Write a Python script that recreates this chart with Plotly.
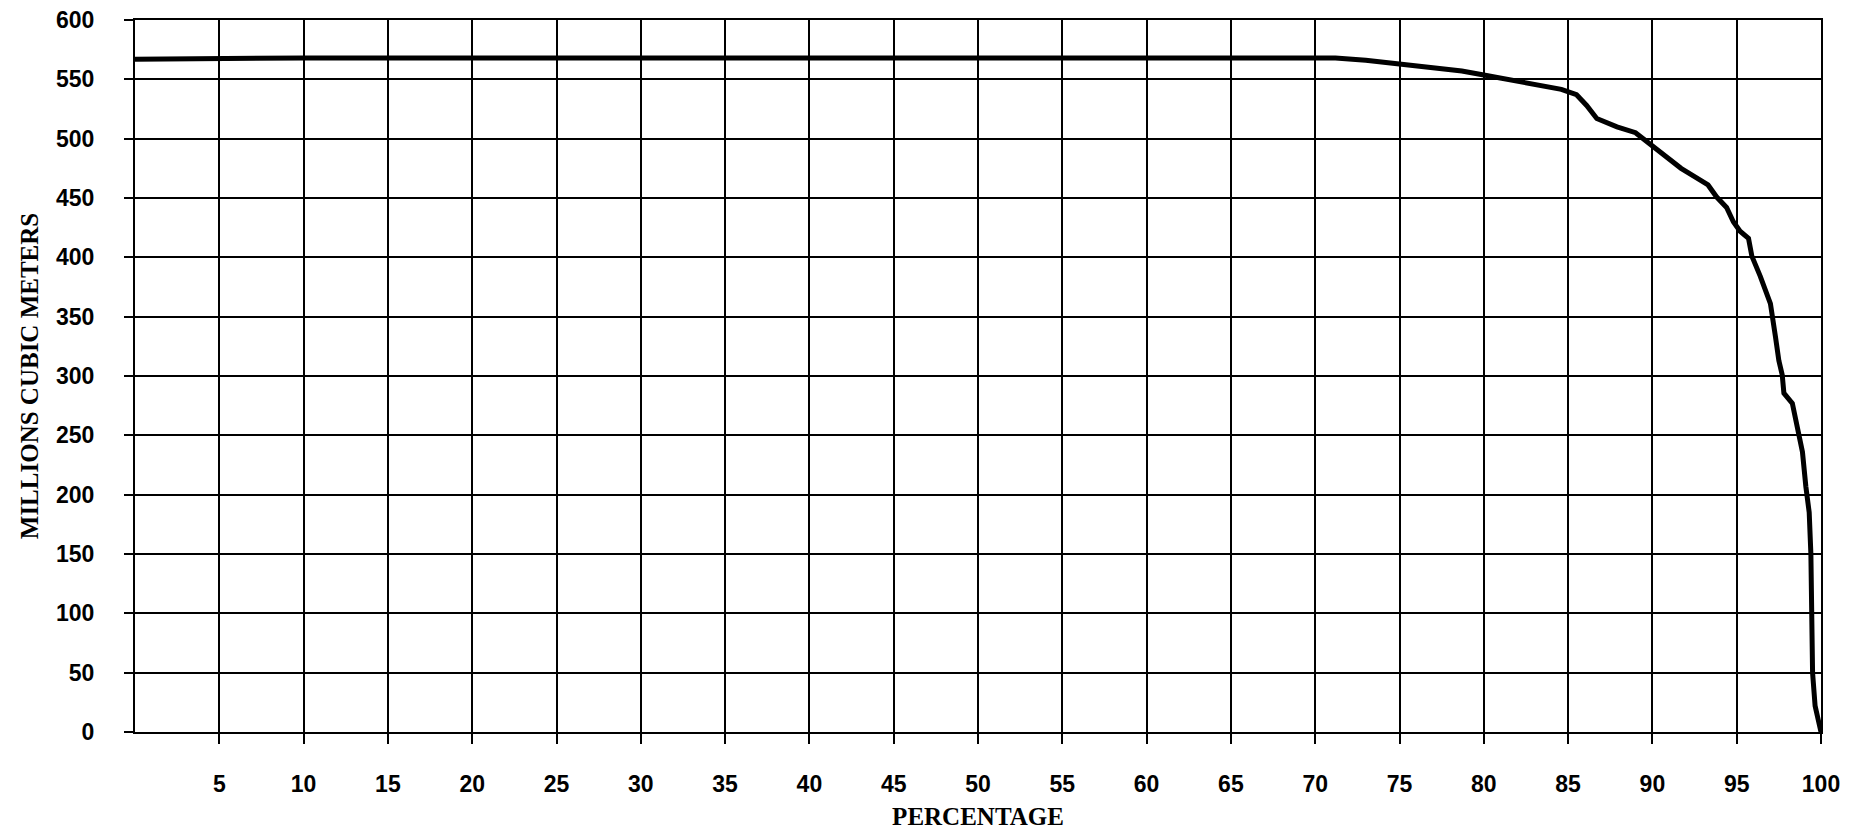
import plotly.graph_objects as go

# Duration curve: percentage of time vs storage (millions cubic meters)
percentage = [0, 3.5, 10, 20, 30, 40, 43, 50, 60, 70, 71.2, 73, 75.2, 77.1, 78.7,
              80, 81.5, 83.4, 84.6, 85.5, 86.1, 86.7, 87.9, 89.0, 89.8, 90.2,
              91.0, 91.7, 92.5, 93.3, 93.8, 94.4, 94.8, 95.2, 95.7, 95.9, 96.4,
              96.7, 97.0, 97.3, 97.5, 97.7, 97.8, 98.3, 98.6, 98.9, 99.1, 99.3,
              99.4, 99.45, 99.5, 99.65, 99.93, 100]
volume = [567, 567.5, 568, 568, 568, 568, 568.7, 568.7, 568.7, 568.5, 568, 566, 562.6, 559.2, 557,
          553.6, 550, 545.2, 541.6, 537, 528, 517, 510, 505, 496, 491,
          482, 475, 468, 461, 451, 442, 430, 422, 416, 401, 384,
          373, 361, 333, 313, 301, 285.5, 277, 258.5, 236, 207, 185,
          150, 100, 50, 22, 2.5, 0]

x_ticks = [5, 10, 15, 20, 25, 30, 35, 40, 45, 50, 55, 60, 65, 70, 75, 80, 85, 90, 95, 100]
y_ticks = [0, 50, 100, 150, 200, 250, 300, 350, 400, 450, 500, 550, 600]

fig = go.Figure()
fig.add_trace(go.Scatter(x=percentage, y=volume, mode="lines",
                         line=dict(color="black", width=5), showlegend=False))

tick_font = dict(family="Liberation Sans, Arial", size=23, color="black", weight="bold")
title_font = dict(family="Liberation Serif, Times New Roman", size=25, color="black", weight="bold")

fig.update_xaxes(range=[0, 100], tickvals=x_ticks, ticktext=[str(v) for v in x_ticks],
                 showgrid=True, gridcolor="black", gridwidth=2,
                 showline=True, linecolor="black", linewidth=2, mirror=True,
                 ticks="outside", ticklen=10, tickwidth=2, tickcolor="black",
                 tickfont=tick_font, ticklabelstandoff=20, zeroline=False,
                 title=dict(text="PERCENTAGE", font=title_font, standoff=12))
fig.update_yaxes(range=[0, 600], tickvals=y_ticks, ticktext=[str(v) for v in y_ticks],
                 showgrid=True, gridcolor="black", gridwidth=1.5,
                 showline=True, linecolor="black", linewidth=2, mirror=True,
                 ticks="outside", ticklen=9, tickwidth=1.5, tickcolor="black",
                 tickfont=tick_font, ticklabelstandoff=25, zeroline=False,
                 title=dict(text="MILLIONS CUBIC METERS", font=title_font, standoff=10))

fig.update_layout(width=1854, height=840,
                  margin=dict(l=135, r=33, t=20, b=108, autoexpand=False),
                  plot_bgcolor="white", paper_bgcolor="white")

fig.write_html("out.html")
